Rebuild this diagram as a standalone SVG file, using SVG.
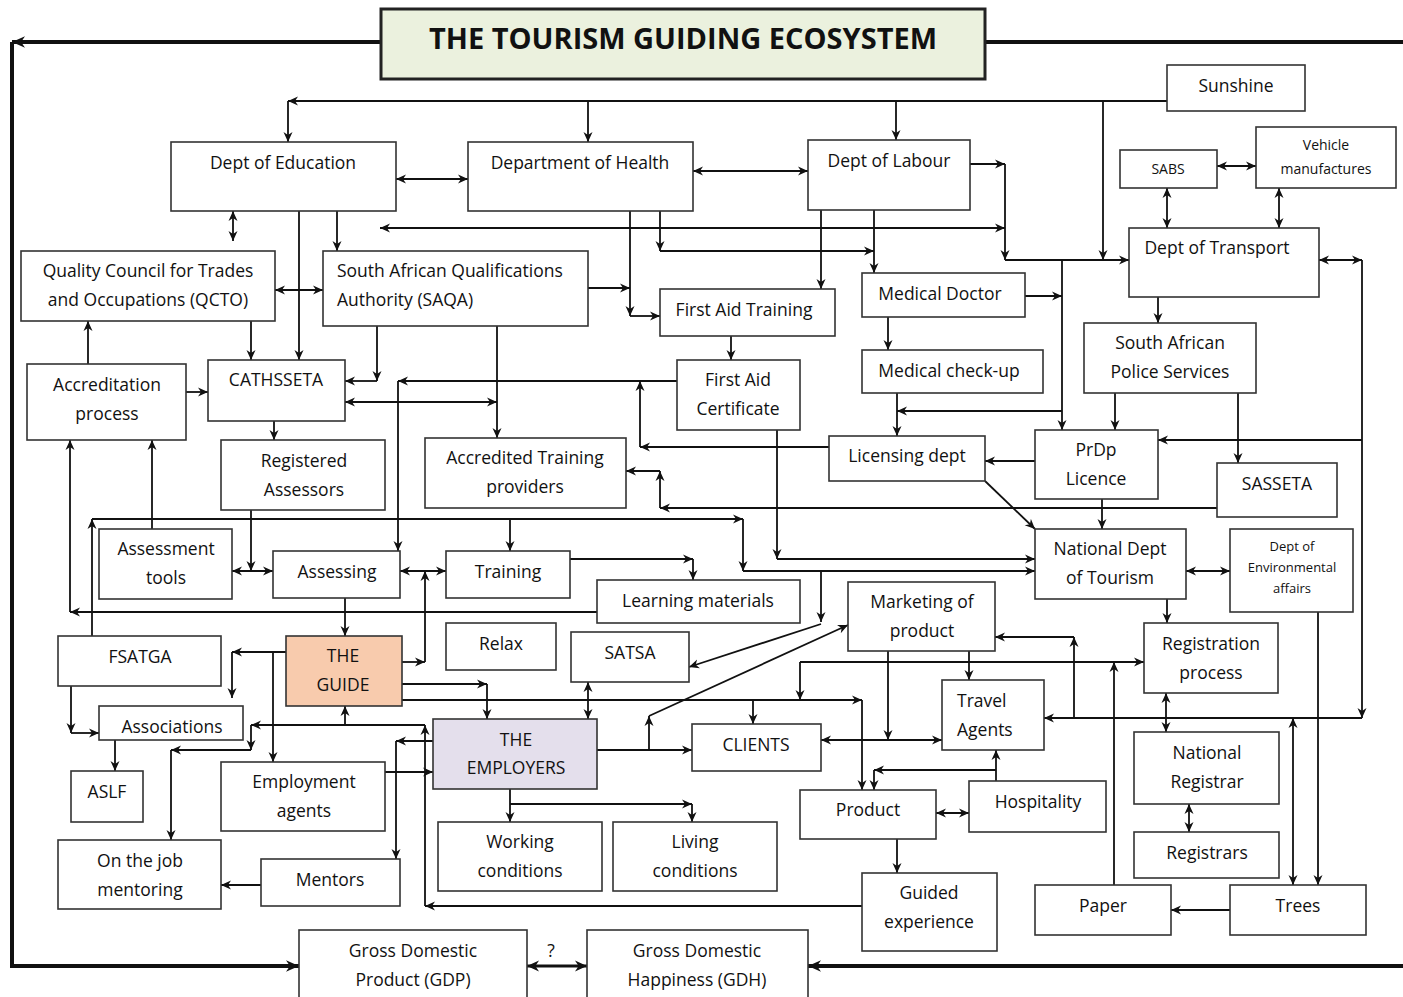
<svg xmlns="http://www.w3.org/2000/svg" width="1403" height="997" viewBox="0 0 1403 997">
<style>
.box{fill:#fff;stroke:#333;stroke-width:1.6}
.t{font-family:"Open Sans","Liberation Sans",sans-serif;font-size:17.5px;text-anchor:middle;fill:#111}
.l{text-anchor:start}
.s14{font-size:14px}
.s13{font-size:13px}
.ttl{font-family:"Open Sans","Liberation Sans",sans-serif;font-size:29px;font-weight:bold;text-anchor:middle;fill:#111}
.c{fill:none;stroke:#111;stroke-width:1.8}
.e{marker-end:url(#ah)}
.b{marker-start:url(#ah);marker-end:url(#ah)}
.k{fill:none;stroke:#111;stroke-width:4}
.ke{marker-end:url(#ahk)}
.kb{stroke-width:3;marker-start:url(#ahm);marker-end:url(#ahm)}
</style>
<defs>
<marker id="ah" viewBox="0 0 10 10" refX="10" refY="5" markerWidth="10" markerHeight="10" markerUnits="userSpaceOnUse" orient="auto-start-reverse"><path d="M0,0.5 L10,5 L0,9.5 L3,5 z" fill="#111"/></marker>
<marker id="ahk" viewBox="0 0 10 10" refX="10" refY="5" markerWidth="13" markerHeight="13" markerUnits="userSpaceOnUse" orient="auto-start-reverse"><path d="M0,0.5 L10,5 L0,9.5 L3,5 z" fill="#111"/></marker>
<marker id="ahm" viewBox="0 0 10 10" refX="10" refY="5" markerWidth="12" markerHeight="12" markerUnits="userSpaceOnUse" orient="auto-start-reverse"><path d="M0,0.5 L10,5 L0,9.5 L3,5 z" fill="#111"/></marker>
</defs>
<rect width="1403" height="997" fill="#fff"/>

<g id="connectors">
<path class="k ke" d="M381,42 H12"/>
<path class="k ke" d="M12,42 V966 H299"/>
<path class="k" d="M985,42 H1403"/>
<path class="k ke" d="M1403,966 H808"/>
<path class="c kb" d="M527,966 H587"/>

<path class="c e" d="M1167,101 H288"/>
<path class="c e" d="M288,101 V142"/>
<path class="c e" d="M588,101 V142"/>
<path class="c e" d="M896,101 V140"/>
<path class="c e" d="M1103,101 V260"/>
<path class="c b" d="M396,179 H468"/>
<path class="c b" d="M693,171 H808"/>
<path class="c e" d="M970,164 H1005"/>
<path class="c e" d="M1005,164 V260"/>
<path class="c e" d="M1005,260 H1129"/>
<path class="c b" d="M380,228 H1005"/>
<path class="c b" d="M1217,166 H1256"/>
<path class="c b" d="M1167,188 V228"/>
<path class="c b" d="M1279,188 V228"/>
<path class="c b" d="M1319,260 H1362"/>
<path class="c e" d="M1362,260 V718"/>
<path class="c e" d="M1362,440 H1158"/>
<path class="c e" d="M1362,718 H1044"/>
<path class="c e" d="M1158,297 V323"/>
<path class="c e" d="M1115,393 V430"/>
<path class="c e" d="M1238,393 V463"/>
<path class="c e" d="M1062,260 V430"/>
<path class="c e" d="M1025,296 H1062"/>
<path class="c e" d="M1062,411 H897"/>
<path class="c e" d="M888,317 V350"/>
<path class="c e" d="M897,393 V436"/>
<path class="c e" d="M1035,461 H985"/>
<path class="c e" d="M985,481 L1035,529"/>
<path class="c e" d="M1102,499 V529"/>
<path class="c b" d="M1186,571 H1230"/>
<path class="c e" d="M1167,599 V623"/>
<path class="c b" d="M1166,693 V732"/>
<path class="c b" d="M1189,804 V832"/>
<path class="c e" d="M1230,910 H1171"/>
<path class="c e" d="M1318,612 V885"/>
<path class="c b" d="M1293,718 V885"/>
<path class="c e" d="M1114,885 V662"/>
<path class="c e" d="M800,662 H1144"/>
<path class="c e" d="M800,662 V700"/>
<path class="c e" d="M1074,718 V637"/>
<path class="c e" d="M1074,637 H995"/>
<path class="c e" d="M969,651 V680"/>
<path class="c e" d="M888,651 V740"/>
<path class="c b" d="M821,740 H942"/>
<path class="c e" d="M996,781 V750"/>
<path class="c e" d="M996,770 H874"/>
<path class="c e" d="M874,770 V790"/>
<path class="c b" d="M936,813 H969"/>
<path class="c e" d="M897,839 V873"/>
<path class="c e" d="M402,700 H862"/>
<path class="c e" d="M862,700 V790"/>
<path class="c e" d="M753,700 V724"/>
<path class="c e" d="M597,750 H692"/>
<path class="c e" d="M649,750 V716"/>
<path class="c e" d="M649,716 L848,625"/>
<path class="c e" d="M743,519 V571"/>
<path class="c e" d="M743,571 H1035"/>
<path class="c e" d="M821,571 V622"/>
<path class="c e" d="M821,624 L689,667"/>
<path class="c b" d="M588,682 V719"/>
<path class="c e" d="M402,684 H487"/>
<path class="c e" d="M487,684 V719"/>
<path class="c e" d="M402,662 H425"/>
<path class="c e" d="M425,662 V571"/>
<path class="c b" d="M400,571 H446"/>
<path class="c b" d="M232,571 H273"/>
<path class="c e" d="M251,510 V571"/>
<path class="c e" d="M345,598 V636"/>
<path class="c e" d="M286,652 H232"/>
<path class="c e" d="M232,652 V698"/>
<path class="c e" d="M273,652 V762"/>
<path class="c e" d="M433,741 H396"/>
<path class="c e" d="M396,741 V859"/>
<path class="c e" d="M385,772 H433"/>
<path class="c e" d="M261,885 H221"/>
<path class="c e" d="M862,906 H425"/>
<path class="c e" d="M425,906 V725"/>
<path class="c e" d="M425,725 H251"/>
<path class="c e" d="M251,725 V750"/>
<path class="c e" d="M251,750 H171"/>
<path class="c e" d="M171,750 V840"/>
<path class="c e" d="M345,725 V706"/>
<path class="c e" d="M71,686 V733"/>
<path class="c e" d="M71,733 H99"/>
<path class="c e" d="M115,740 V771"/>
<path class="c e" d="M510,789 V822"/>
<path class="c e" d="M510,804 H692"/>
<path class="c e" d="M692,804 V822"/>
<path class="c e" d="M92,636 V519"/>
<path class="c e" d="M92,519 H743"/>
<path class="c e" d="M510,519 V551"/>
<path class="c e" d="M570,559 H693"/>
<path class="c e" d="M693,559 V580"/>
<path class="c e" d="M597,612 H70"/>
<path class="c e" d="M70,612 V440"/>
<path class="c e" d="M152,529 V440"/>
<path class="c e" d="M186,392 H208"/>
<path class="c e" d="M88,364 V321"/>
<path class="c e" d="M274,421 V440"/>
<path class="c b" d="M233,211 V241"/>
<path class="c e" d="M299,211 V360"/>
<path class="c e" d="M337,211 V251"/>
<path class="c b" d="M275,290 H323"/>
<path class="c e" d="M251,321 V360"/>
<path class="c e" d="M377,326 V381"/>
<path class="c e" d="M377,381 H345"/>
<path class="c b" d="M345,402 H497"/>
<path class="c e" d="M497,326 V438"/>
<path class="c e" d="M677,381 H398"/>
<path class="c e" d="M398,381 V551"/>
<path class="c e" d="M829,447 H640"/>
<path class="c e" d="M640,447 V381"/>
<path class="c e" d="M777,430 V559"/>
<path class="c e" d="M777,559 H1035"/>
<path class="c e" d="M1217,508 H660"/>
<path class="c e" d="M660,508 V471"/>
<path class="c e" d="M660,471 H626"/>
<path class="c e" d="M630,211 V316"/>
<path class="c e" d="M630,316 H660"/>
<path class="c e" d="M588,288 H630"/>
<path class="c e" d="M660,211 V251"/>
<path class="c e" d="M660,251 H874"/>
<path class="c e" d="M821,210 V289"/>
<path class="c e" d="M874,210 V273"/>
<path class="c e" d="M731,336 V360"/>
</g>

<g id="title"><rect x="381" y="9" width="604" height="70" fill="#EBF1DE" stroke="#222" stroke-width="3"/><text class="ttl" x="683" y="49">THE TOURISM GUIDING ECOSYSTEM</text></g>
<g id="n-sunshine"><rect class="box" x="1167" y="65" width="138" height="46"/><text class="t" x="1236" y="92">Sunshine</text></g>
<g id="n-education"><rect class="box" x="171" y="142" width="225" height="69"/><text class="t" x="283" y="169">Dept of Education</text></g>
<g id="n-health"><rect class="box" x="468" y="142" width="225" height="69"/><text class="t" x="580" y="169">Department of Health</text></g>
<g id="n-labour"><rect class="box" x="808" y="140" width="162" height="70"/><text class="t" x="889" y="167">Dept of Labour</text></g>
<g id="n-sabs"><rect class="box" x="1120" y="150" width="97" height="38"/><text class="t s14" x="1168" y="174">SABS</text></g>
<g id="n-vehicle"><rect class="box" x="1256" y="127" width="140" height="61"/><text class="t s14" x="1326" y="150">Vehicle</text><text class="t s14" x="1326" y="174">manufactures</text></g>
<g id="n-transport"><rect class="box" x="1129" y="228" width="190" height="69"/><text class="t" x="1217" y="254">Dept of Transport</text></g>
<g id="n-qcto"><rect class="box" x="21" y="251" width="254" height="70"/><text class="t" x="148" y="277">Quality Council for Trades</text><text class="t" x="148" y="306">and Occupations (QCTO)</text></g>
<g id="n-saqa"><rect class="box" x="323" y="251" width="265" height="75"/><text class="t l" x="337" y="277">South African Qualifications</text><text class="t l" x="337" y="306">Authority (SAQA)</text></g>
<g id="n-fat"><rect class="box" x="660" y="289" width="175" height="47"/><text class="t" x="744" y="316">First Aid Training</text></g>
<g id="n-doctor"><rect class="box" x="862" y="273" width="163" height="44"/><text class="t" x="940" y="300">Medical Doctor</text></g>
<g id="n-saps"><rect class="box" x="1084" y="323" width="172" height="70"/><text class="t" x="1170" y="349">South African</text><text class="t" x="1170" y="378">Police Services</text></g>
<g id="n-accred"><rect class="box" x="27" y="364" width="159" height="76"/><text class="t" x="107" y="391">Accreditation</text><text class="t" x="107" y="420">process</text></g>
<g id="n-cathsseta"><rect class="box" x="208" y="360" width="137" height="61"/><text class="t" x="276" y="386">CATHSSETA</text></g>
<g id="n-fac"><rect class="box" x="677" y="360" width="123" height="70"/><text class="t" x="738" y="386">First Aid</text><text class="t" x="738" y="415">Certificate</text></g>
<g id="n-checkup"><rect class="box" x="862" y="350" width="181" height="43"/><text class="t" x="949" y="377">Medical check-up</text></g>
<g id="n-regassess"><rect class="box" x="221" y="440" width="164" height="70"/><text class="t" x="304" y="467">Registered</text><text class="t" x="304" y="496">Assessors</text></g>
<g id="n-atp"><rect class="box" x="425" y="438" width="201" height="70"/><text class="t" x="525" y="464">Accredited Training</text><text class="t" x="525" y="493">providers</text></g>
<g id="n-licensing"><rect class="box" x="829" y="436" width="156" height="45"/><text class="t" x="907" y="462">Licensing dept</text></g>
<g id="n-prdp"><rect class="box" x="1035" y="430" width="123" height="69"/><text class="t" x="1096" y="456">PrDp</text><text class="t" x="1096" y="485">Licence</text></g>
<g id="n-sasseta"><rect class="box" x="1217" y="463" width="120" height="54"/><text class="t" x="1277" y="490">SASSETA</text></g>
<g id="n-tools"><rect class="box" x="99" y="529" width="133" height="70"/><text class="t" x="166" y="555">Assessment</text><text class="t" x="166" y="584">tools</text></g>
<g id="n-assessing"><rect class="box" x="273" y="551" width="127" height="47"/><text class="t" x="337" y="578">Assessing</text></g>
<g id="n-training"><rect class="box" x="446" y="551" width="124" height="47"/><text class="t" x="508" y="578">Training</text></g>
<g id="n-learning"><rect class="box" x="597" y="580" width="203" height="43"/><text class="t" x="698" y="607">Learning materials</text></g>
<g id="n-ndt"><rect class="box" x="1035" y="529" width="151" height="70"/><text class="t" x="1110" y="555">National Dept</text><text class="t" x="1110" y="584">of Tourism</text></g>
<g id="n-dea"><rect class="box" x="1230" y="529" width="123" height="83"/><text class="t s13" x="1292" y="551">Dept of</text><text class="t s13" x="1292" y="572">Environmental</text><text class="t s13" x="1292" y="593">affairs</text></g>
<g id="n-marketing"><rect class="box" x="848" y="582" width="147" height="69"/><text class="t" x="922" y="608">Marketing of</text><text class="t" x="922" y="637">product</text></g>
<g id="n-relax"><rect class="box" x="446" y="623" width="110" height="47"/><text class="t" x="501" y="650">Relax</text></g>
<g id="n-satsa"><rect class="box" x="571" y="632" width="118" height="50"/><text class="t" x="630" y="659">SATSA</text></g>
<g id="n-fsatga"><rect class="box" x="58" y="636" width="163" height="50"/><text class="t" x="140" y="663">FSATGA</text></g>
<g id="n-guide"><rect x="286" y="636" width="116" height="70" fill="#F8CBAD" stroke="#333" stroke-width="1.6"/><text class="t" x="343" y="662">THE</text><text class="t" x="343" y="691">GUIDE</text></g>
<g id="n-registration"><rect class="box" x="1144" y="623" width="134" height="70"/><text class="t" x="1211" y="650">Registration</text><text class="t" x="1211" y="679">process</text></g>
<g id="n-travel"><rect class="box" x="942" y="680" width="102" height="70"/><text class="t l" x="957" y="707">Travel</text><text class="t l" x="957" y="736">Agents</text></g>
<g id="n-associations"><rect class="box" x="99" y="706" width="144" height="34"/><text class="t" x="172" y="733">Associations</text></g>
<g id="n-employers"><rect x="433" y="719" width="164" height="70" fill="#E4DFEC" stroke="#333" stroke-width="1.6"/><text class="t" x="516" y="746">THE</text><text class="t" x="516" y="774">EMPLOYERS</text></g>
<g id="n-clients"><rect class="box" x="692" y="724" width="129" height="47"/><text class="t" x="756" y="751">CLIENTS</text></g>
<g id="n-natreg"><rect class="box" x="1134" y="732" width="145" height="72"/><text class="t" x="1207" y="759">National</text><text class="t" x="1207" y="788">Registrar</text></g>
<g id="n-aslf"><rect class="box" x="71" y="771" width="72" height="51"/><text class="t" x="107" y="798">ASLF</text></g>
<g id="n-employment"><rect class="box" x="221" y="762" width="164" height="69"/><text class="t" x="304" y="788">Employment</text><text class="t" x="304" y="817">agents</text></g>
<g id="n-product"><rect class="box" x="800" y="790" width="136" height="49"/><text class="t" x="868" y="816">Product</text></g>
<g id="n-hospitality"><rect class="box" x="969" y="781" width="137" height="51"/><text class="t" x="1038" y="808">Hospitality</text></g>
<g id="n-working"><rect class="box" x="438" y="822" width="164" height="69"/><text class="t" x="520" y="848">Working</text><text class="t" x="520" y="877">conditions</text></g>
<g id="n-living"><rect class="box" x="613" y="822" width="164" height="69"/><text class="t" x="695" y="848">Living</text><text class="t" x="695" y="877">conditions</text></g>
<g id="n-registrars"><rect class="box" x="1134" y="832" width="145" height="46"/><text class="t" x="1207" y="859">Registrars</text></g>
<g id="n-ojm"><rect class="box" x="58" y="840" width="163" height="69"/><text class="t" x="140" y="867">On the job</text><text class="t" x="140" y="896">mentoring</text></g>
<g id="n-mentors"><rect class="box" x="261" y="859" width="139" height="47"/><text class="t" x="330" y="886">Mentors</text></g>
<g id="n-guided"><rect class="box" x="862" y="873" width="135" height="78"/><text class="t" x="929" y="899">Guided</text><text class="t" x="929" y="928">experience</text></g>
<g id="n-paper"><rect class="box" x="1035" y="885" width="136" height="50"/><text class="t" x="1103" y="912">Paper</text></g>
<g id="n-trees"><rect class="box" x="1230" y="885" width="136" height="50"/><text class="t" x="1298" y="912">Trees</text></g>
<g id="n-gdp"><rect class="box" x="299" y="930" width="228" height="80"/><text class="t" x="413" y="957">Gross Domestic</text><text class="t" x="413" y="986">Product (GDP)</text></g>
<g id="n-gdh"><rect class="box" x="587" y="930" width="221" height="80"/><text class="t" x="697" y="957">Gross Domestic</text><text class="t" x="697" y="986">Happiness (GDH)</text></g>
<text class="t" x="551" y="957">?</text>
</svg>
